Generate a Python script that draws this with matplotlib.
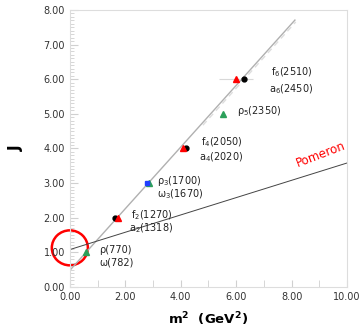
import numpy as np
import matplotlib.pyplot as plt
from matplotlib.ticker import MultipleLocator, FormatStrFormatter
from matplotlib.patches import Ellipse

plt.rcParams['mathtext.default'] = 'regular'

# states: m^2 (GeV^2), J
f_m2 = [1.62, 4.19, 6.28]
f_J = [2, 4, 6]
a_m2 = [1.73, 4.08, 6.0]
a_J = [2, 4, 6]
green_m2 = [0.60, 2.87, 5.52]
green_J = [1, 3, 5]
blue_m2 = [2.79]
blue_J = [3]
a6_xerr = [[0.62], [0.60]]

labels = [
    ("ρ(770)", 1.05, 1.06),
    ("ω(782)", 1.05, 0.70),
    ("f$_2$(1270)", 2.2, 2.08),
    ("a$_2$(1318)", 2.15, 1.71),
    ("ρ$_3$(1700)", 3.14, 3.05),
    ("ω$_3$(1670)", 3.14, 2.67),
    ("f$_4$(2050)", 4.72, 4.17),
    ("a$_4$(2020)", 4.65, 3.74),
    ("ρ$_5$(2350)", 6.03, 5.08),
    ("f$_6$(2510)", 7.26, 6.21),
    ("a$_6$(2450)", 7.2, 5.71),
]

regge_a0, regge_a1 = 0.48, 0.89
pom_a0, pom_a1 = 1.08, 0.25

fig = plt.figure(figsize=(3.6, 3.31), dpi=100)
ax = fig.add_axes([0.194, 0.133, 0.770, 0.837])

t = np.array([0.0, 8.12])
ax.plot(t, regge_a0 + regge_a1 * t, color='#b0b0b0', lw=1.0)
t2 = np.array([4.8, 8.15])
ax.plot(t2, regge_a0 - 0.08 + regge_a1 * t2, color='#dddddd', lw=1.0, ls='--', dashes=(4, 3))
tp = np.array([0.0, 10.0])
ax.plot(tp, pom_a0 + pom_a1 * tp, color='#444444', lw=0.7)

ax.errorbar([a_m2[2]], [a_J[2]], xerr=a6_xerr, fmt='none', ecolor='#d8d8d8', elinewidth=0.8)
ax.plot(f_m2, f_J, 'o', color='black', ms=3.5)
ax.plot(a_m2, a_J, '^', color='red', ms=4)
ax.plot(green_m2, green_J, '^', color='#2ca05a', ms=4)
ax.plot(blue_m2, blue_J, 's', color='#1f3fff', ms=3.2)

for txt, x, y in labels:
    ax.text(x, y, txt, fontsize=7, color='#222222', va='center', ha='left')

ax.text(9.05, 3.82, "Pomeron", color='red', fontsize=8.5, rotation=21,
        ha='center', va='center', clip_on=False)

ax.add_patch(Ellipse((0.0, 1.13), 1.30, 1.01, fill=False, ec='red', lw=1.8, clip_on=False))

ax.set_xlim(0, 10)
ax.set_ylim(0, 8)
ax.xaxis.set_major_locator(MultipleLocator(2))
ax.xaxis.set_minor_locator(MultipleLocator(1))
ax.yaxis.set_major_locator(MultipleLocator(1))
ax.yaxis.set_minor_locator(MultipleLocator(0.1))
ax.xaxis.set_major_formatter(FormatStrFormatter('%.2f'))
ax.yaxis.set_major_formatter(FormatStrFormatter('%.2f'))
ax.tick_params(which='both', direction='in', color='#d0d0d0', labelsize=7, labelcolor='#333333')
ax.tick_params(which='major', length=6)
ax.tick_params(which='minor', length=3)
ax.tick_params(axis='x', which='both', length=5)
for s in ax.spines.values():
    s.set_color('#dddddd')

ax.set_xlabel("m$^{2}$  (GeV$^{2}$)", fontsize=9.5, fontweight='bold', labelpad=6)
ax.set_ylabel("J", fontsize=11, fontweight='bold', labelpad=14)

fig.savefig("out.png", dpi=100)
